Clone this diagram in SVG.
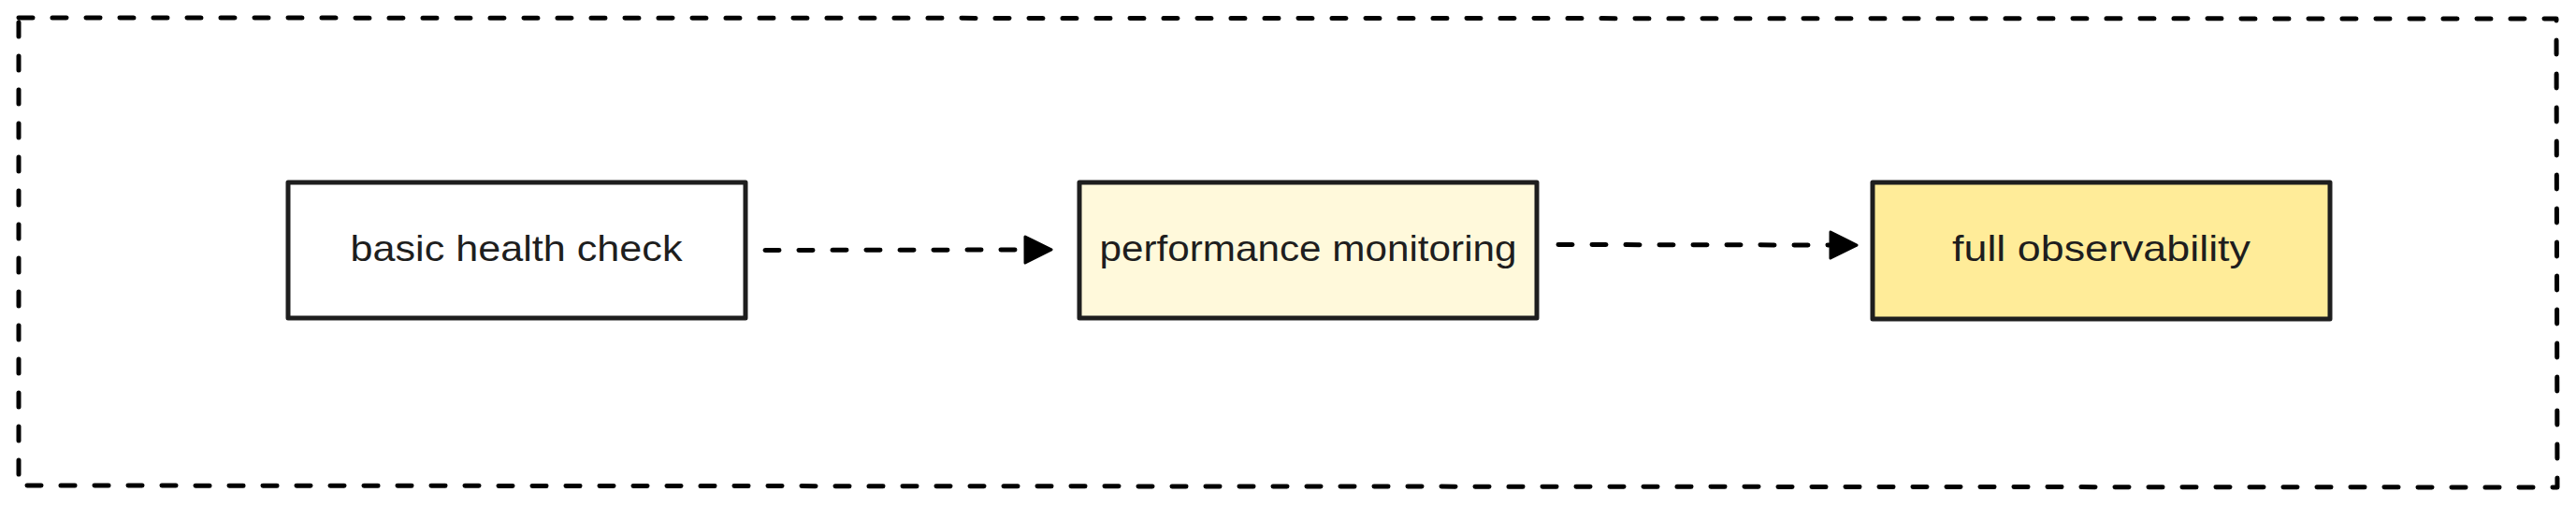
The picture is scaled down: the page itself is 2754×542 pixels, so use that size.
<svg xmlns="http://www.w3.org/2000/svg" width="2754" height="542" viewBox="0 0 2754 542">
  <style>
    .frame { fill: none; stroke: #000000; stroke-width: 5; stroke-dasharray: 15 21; stroke-linecap: round; stroke-linejoin: round; }
    .box { stroke: #1e1e1e; stroke-width: 5; stroke-linejoin: round; }
    .label { font-family: "Liberation Sans", "DejaVu Sans", sans-serif; font-size: 39px; fill: #1e1e1e; text-anchor: middle; }
    .edge { fill: none; stroke: #000000; stroke-width: 5; stroke-dasharray: 15 21; stroke-linecap: round; }
    .head { fill: #000000; stroke: #000000; stroke-width: 3; stroke-linejoin: round; }
  </style>
  <defs>
    <marker id="arrow" viewBox="0 0 32 32" refX="3" refY="16" markerWidth="32" markerHeight="32" markerUnits="userSpaceOnUse" orient="auto">
      <path class="head" d="M2,2 L30,16 L2,30 Z"/>
    </marker>
  </defs>
  <rect width="2754" height="542" fill="#ffffff"/>

  <g id="frame">
    <path class="frame" d="M20,19 L2733,20 L2734,521 L20,519 Z"/>
  </g>

  <g id="connectors">
    <path class="edge" d="M818,267.5 L1097,267" marker-end="url(#arrow)"/>
    <path class="edge" d="M1666,261.5 L1958,262" marker-end="url(#arrow)"/>
  </g>

  <g id="node-basic">
    <rect class="box" x="308" y="195" width="489" height="145" fill="#ffffff"/>
    <text class="label" x="552" y="279" textLength="355" lengthAdjust="spacingAndGlyphs">basic health check</text>
  </g>

  <g id="node-performance">
    <rect class="box" x="1154" y="195" width="489" height="145" fill="#fff9db"/>
    <text class="label" x="1398.5" y="279" textLength="446" lengthAdjust="spacingAndGlyphs">performance monitoring</text>
  </g>

  <g id="node-full">
    <rect class="box" x="2002" y="195" width="489" height="146" fill="#ffec99"/>
    <text class="label" x="2246.5" y="279" textLength="319" lengthAdjust="spacingAndGlyphs">full observability</text>
  </g>
</svg>
